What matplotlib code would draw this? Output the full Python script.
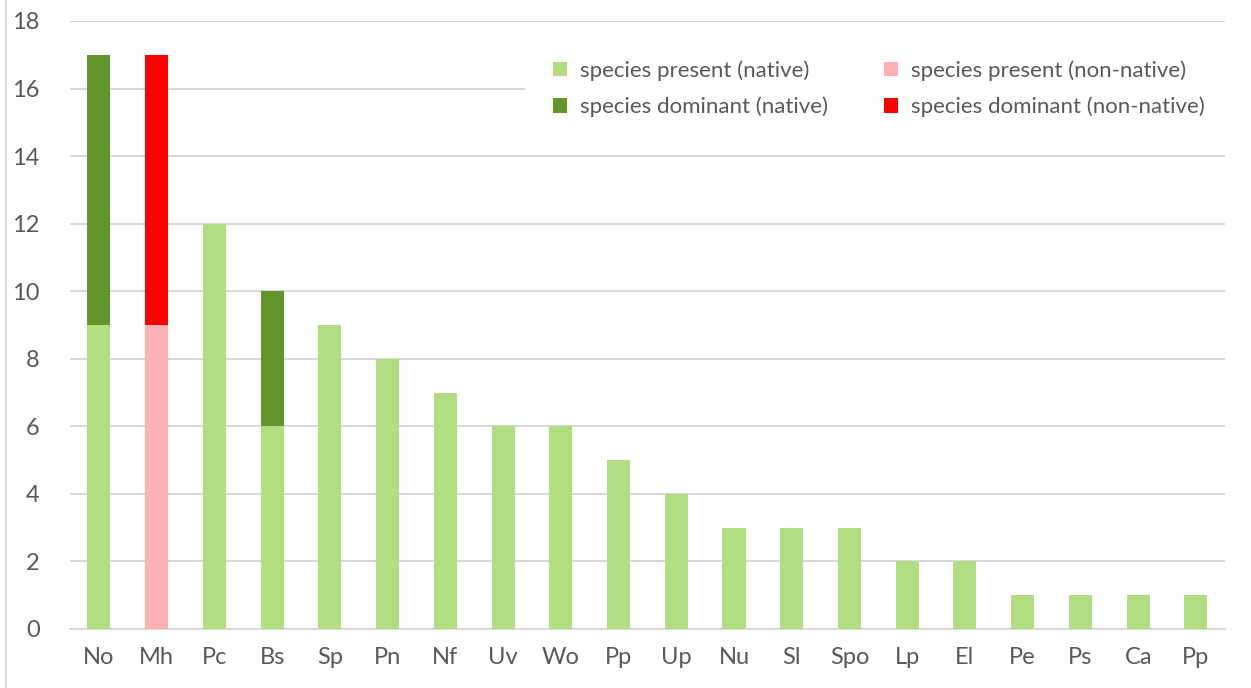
import matplotlib
matplotlib.use("Agg")
import matplotlib.pyplot as plt
from matplotlib.lines import Line2D
from matplotlib.patches import Rectangle
import numpy as np

plt.rcParams['font.family'] = ['Lato', 'DejaVu Sans']

species = ['No', 'Mh', 'Pc', 'Bs', 'Sp', 'Pn', 'Nf', 'Uv', 'Wo', 'Pp',
           'Up', 'Nu', 'Sl', 'Spo', 'Lp', 'El', 'Pe', 'Ps', 'Ca', 'Pp']
present_native = [9, 0, 12, 6, 9, 8, 7, 6, 6, 5, 4, 3, 3, 3, 2, 2, 1, 1, 1, 1]
dominant_native = [8, 0, 0, 4, 0, 0, 0, 0, 0, 0, 0, 0, 0, 0, 0, 0, 0, 0, 0, 0]
present_nonnative = [0, 9, 0, 0, 0, 0, 0, 0, 0, 0, 0, 0, 0, 0, 0, 0, 0, 0, 0, 0]
dominant_nonnative = [0, 8, 0, 0, 0, 0, 0, 0, 0, 0, 0, 0, 0, 0, 0, 0, 0, 0, 0, 0]

c_pn = '#B1DE82'
c_dn = '#63962A'
c_pnn = '#FFB0B0'
c_dnn = '#FF0000'
grey = '#595959'
grid = '#D9D9D9'

fig = plt.figure(figsize=(12.51, 6.88), dpi=100)
ax = fig.add_axes([0.056, 0.0858, 0.923, 0.8837])

x = np.arange(len(species))
w = 0.4
pn = np.array(present_native)
pnn = np.array(present_nonnative)
ax.bar(x, pn, w, color=c_pn, label='species present (native)', zorder=3)
ax.bar(x, dominant_native, w, bottom=pn, color=c_dn,
       label='species dominant (native)', zorder=3)
ax.bar(x, pnn, w, bottom=pn, color=c_pnn,
       label='species present (non-native)', zorder=3)
ax.bar(x, dominant_nonnative, w, bottom=pn + pnn, color=c_dnn,
       label='species dominant (non-native)', zorder=3)

ax.set_xlim(-0.5, len(species) - 0.5)
ax.set_ylim(0, 18)
ax.set_yticks(range(0, 19, 2))
ax.set_xticks(x)
ax.set_xticklabels(species)
ax.yaxis.grid(True, color=grid, linewidth=1.5, zorder=0)
ax.set_axisbelow(True)
for s in ['top', 'right', 'left']:
    ax.spines[s].set_visible(False)
ax.spines['bottom'].set_color(grid)
ax.spines['bottom'].set_linewidth(1.5)
ax.tick_params(axis='both', length=0, labelsize=17, colors=grey)
ax.tick_params(axis='y', pad=22)
ax.tick_params(axis='x', pad=13)

# white box behind the legend hides the gridline at 16
ax.add_patch(Rectangle((0.394, 14.6), 0.606, 2.9, transform=ax.get_yaxis_transform(),
                       facecolor='white', edgecolor='none', zorder=2))

leg = ax.legend(ncol=2, loc='upper right', bbox_to_anchor=(1.0, 0.968),
                fontsize=16, frameon=False, borderaxespad=0,
                handlelength=0.62, handleheight=0.62,
                handletextpad=0.6, columnspacing=2.5, labelspacing=0.71,
                borderpad=0.9)
for t in leg.get_texts():
    t.set_color(grey)
leg.set_zorder(5)

# thin frame line on the left edge
fig.add_artist(Line2D([0.005, 0.005], [0, 1], color=grid, linewidth=1.5))

fig.savefig('out.png', dpi=100)
